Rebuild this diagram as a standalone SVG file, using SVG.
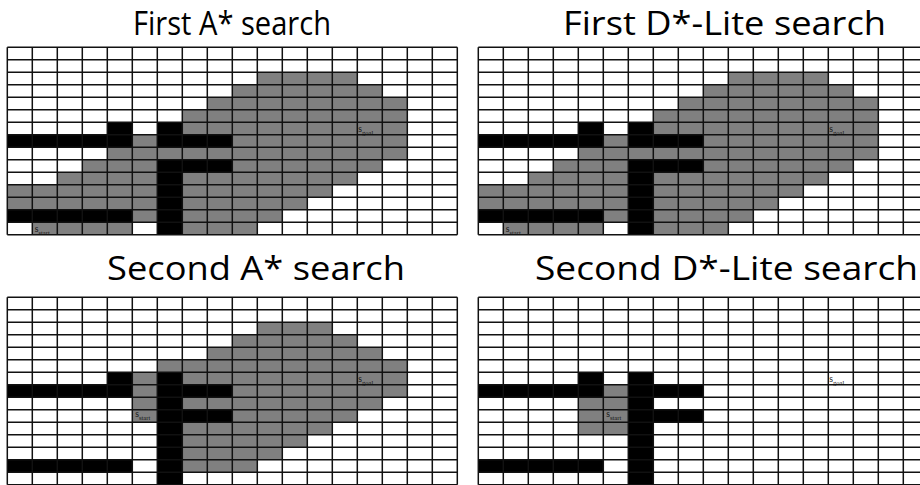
<svg xmlns="http://www.w3.org/2000/svg" xmlns:xlink="http://www.w3.org/1999/xlink" width="920" height="485" viewBox="0 0 920 485">
<style>
.title{font-family:"Open Sans","Liberation Sans",sans-serif;font-size:32px;fill:#000}
.g{fill:#808080}
.b{fill:#000}
.grid{fill:none;stroke:#111;stroke-width:1.5}
.lbl{font-family:"Liberation Serif","DejaVu Serif",serif;font-size:9.5px;fill:#111}
.sub{font-size:6.5px}
</style>
<defs>
<path id="grid" class="grid" d="M0 0H450M0 12.5H450M0 25H450M0 37.5H450M0 50H450M0 62.5H450M0 75H450M0 87.5H450M0 100H450M0 112.5H450M0 125H450M0 137.5H450M0 150H450M0 162.5H450M0 175H450M0 187.5H450M0 0V187.5M25 0V187.5M50 0V187.5M75 0V187.5M100 0V187.5M125 0V187.5M150 0V187.5M175 0V187.5M200 0V187.5M225 0V187.5M250 0V187.5M275 0V187.5M300 0V187.5M325 0V187.5M350 0V187.5M375 0V187.5M400 0V187.5M425 0V187.5M450 0V187.5"/>
<g id="gray1" class="g">
<rect x="250" y="25" width="100" height="12.5"/>
<rect x="225" y="37.5" width="150" height="12.5"/>
<rect x="200" y="50" width="200" height="12.5"/>
<rect x="175" y="62.5" width="225" height="25"/>
<rect x="125" y="87.5" width="25" height="12.5"/>
<rect x="225" y="87.5" width="175" height="12.5"/>
<rect x="100" y="100" width="300" height="12.5"/>
<rect x="75" y="112.5" width="75" height="12.5"/>
<rect x="225" y="112.5" width="150" height="12.5"/>
<rect x="50" y="125" width="100" height="12.5"/>
<rect x="175" y="125" width="175" height="12.5"/>
<rect x="0" y="137.5" width="150" height="25"/>
<rect x="175" y="137.5" width="150" height="12.5"/>
<rect x="175" y="150" width="125" height="12.5"/>
<rect x="125" y="162.5" width="25" height="12.5"/>
<rect x="175" y="162.5" width="100" height="12.5"/>
<rect x="25" y="175" width="100" height="12.5"/>
<rect x="175" y="175" width="75" height="12.5"/>
</g>
<g id="gray2" class="g">
<rect x="250" y="25" width="75" height="12.5"/>
<rect x="225" y="37.5" width="125" height="12.5"/>
<rect x="200" y="50" width="175" height="12.5"/>
<rect x="150" y="62.5" width="250" height="12.5"/>
<rect x="125" y="75" width="25" height="50"/>
<rect x="175" y="75" width="225" height="12.5"/>
<rect x="225" y="87.5" width="175" height="12.5"/>
<rect x="175" y="100" width="200" height="12.5"/>
<rect x="225" y="112.5" width="125" height="12.5"/>
<rect x="175" y="125" width="150" height="12.5"/>
<rect x="175" y="137.5" width="125" height="12.5"/>
<rect x="175" y="150" width="100" height="12.5"/>
<rect x="175" y="162.5" width="75" height="12.5"/>
</g>
<g id="gray3" class="g">
<rect x="125" y="87.5" width="25" height="12.5"/>
<rect x="100" y="100" width="50" height="37.5"/>
</g>
<g id="walls" class="b">
<rect x="100" y="75" width="25" height="12.5"/>
<rect x="0" y="87.5" width="125" height="12.5"/>
<rect x="150" y="87.5" width="75" height="12.5"/>
<rect x="150" y="112.5" width="75" height="12.5"/>
<rect x="0" y="162.5" width="125" height="12.5"/>
<rect x="150" y="75" width="25" height="25"/>
<rect x="150" y="112.5" width="25" height="75"/>
</g>
<rect id="blocked" class="b" x="150" y="100" width="25" height="12.5"/>
<text id="goal" class="lbl" x="351" y="84.5">s<tspan class="sub" dy="3.5">goal</tspan></text>
</defs>

<text class="title" x="133" y="35" textLength="198" lengthAdjust="spacingAndGlyphs">First A* search</text>
<text class="title" x="563" y="35" textLength="323" lengthAdjust="spacingAndGlyphs">First D*-Lite search</text>
<text class="title" x="107" y="280" textLength="298" lengthAdjust="spacingAndGlyphs">Second A* search</text>
<text class="title" x="535" y="280" textLength="383" lengthAdjust="spacingAndGlyphs">Second D*-Lite search</text>

<g id="first-astar" transform="translate(7.3,47.3)">
<use xlink:href="#gray1"/>
<use xlink:href="#walls"/>
<use xlink:href="#grid"/>
<use xlink:href="#goal"/>
<text class="lbl" x="27.5" y="185">s<tspan class="sub" dy="3">start</tspan></text>
</g>

<g id="first-dstar" transform="translate(478.3,47.3)">
<use xlink:href="#gray1"/>
<use xlink:href="#walls"/>
<use xlink:href="#grid"/>
<use xlink:href="#goal"/>
<text class="lbl" x="27.5" y="185">s<tspan class="sub" dy="3">start</tspan></text>
</g>

<g id="second-astar" transform="translate(7.3,297.3)">
<use xlink:href="#gray2"/>
<use xlink:href="#walls"/>
<use xlink:href="#blocked"/>
<use xlink:href="#grid"/>
<use xlink:href="#goal"/>
<text class="lbl" x="128" y="119.5">s<tspan class="sub" dy="3">start</tspan></text>
</g>

<g id="second-dstar" transform="translate(478.3,297.3)">
<use xlink:href="#gray3"/>
<use xlink:href="#walls"/>
<use xlink:href="#blocked"/>
<use xlink:href="#grid"/>
<use xlink:href="#goal"/>
<text class="lbl" x="128" y="119.5">s<tspan class="sub" dy="3">start</tspan></text>
</g>
</svg>
